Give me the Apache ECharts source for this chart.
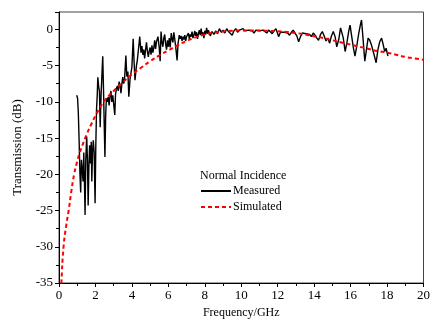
<!DOCTYPE html>
<html>
<head>
<meta charset="utf-8">
<script src="https://cdn.jsdelivr.net/npm/echarts@6/dist/echarts.min.js"></script>
<style>
  html, body { margin: 0; padding: 0; background: #fff; }
  #chart { width: 433px; height: 324px; }
</style>
</head>
<body>
<div id="chart"></div>
<script>
// measured transmission (freq in GHz, value in dB)
const measuredFreq = [
  0.97, 1.02, 1.06, 1.1, 1.15, 1.19, 1.23, 1.28, 1.32, 1.36, 1.4, 1.43, 1.47, 1.52, 1.56, 1.6,
  1.64, 1.68, 1.73, 1.77, 1.8, 1.84, 1.88, 1.93, 1.98, 2.02, 2.06, 2.1, 2.13, 2.18, 2.22, 2.26,
  2.31, 2.36, 2.4, 2.44, 2.48, 2.52, 2.56, 2.6, 2.65, 2.7, 2.75, 2.8, 2.85, 2.9, 2.95, 3.0,
  3.06, 3.1, 3.15, 3.2, 3.25, 3.3, 3.35, 3.4, 3.45, 3.5, 3.55, 3.6, 3.67, 3.72, 3.78, 3.83,
  3.9, 3.95, 4.0, 4.07, 4.12, 4.17, 4.25, 4.3, 4.37, 4.43, 4.5, 4.55, 4.6, 4.65, 4.7, 4.75,
  4.8, 4.85, 4.9, 4.95, 5.0, 5.05, 5.1, 5.15, 5.2, 5.25, 5.3, 5.35, 5.43, 5.5, 5.55, 5.6,
  5.65, 5.7, 5.75, 5.8, 5.85, 5.9, 5.95, 6.0, 6.05, 6.1, 6.16, 6.2, 6.25, 6.3, 6.35, 6.42,
  6.48, 6.53, 6.6, 6.65, 6.7, 6.75, 6.8, 6.85, 6.9, 6.95, 7.0, 7.05, 7.1, 7.15, 7.2, 7.25,
  7.3, 7.35, 7.4, 7.45, 7.5, 7.55, 7.6, 7.65, 7.7, 7.75, 7.8, 7.85, 7.9, 7.95, 8.0, 8.05,
  8.1, 8.15, 8.2, 8.3, 8.4, 8.5, 8.6, 8.7, 8.8, 8.9, 9.0, 9.1, 9.2, 9.3, 9.4, 9.5,
  9.6, 9.7, 9.8, 9.9, 10.0, 10.1, 10.2, 10.3, 10.4, 10.5, 10.6, 10.7, 10.8, 10.9, 11.0, 11.1,
  11.2, 11.3, 11.4, 11.5, 11.6, 11.7, 11.8, 11.9, 12.0, 12.05, 12.15, 12.25, 12.35, 12.45, 12.55, 12.65,
  12.75, 12.85, 12.95, 13.05, 13.15, 13.25, 13.35, 13.45, 13.55, 13.65, 13.75, 13.85, 13.95, 14.05, 14.15, 14.24,
  14.35, 14.45, 14.55, 14.65, 14.75, 14.85, 14.95, 15.05, 15.15, 15.24, 15.35, 15.45, 15.52, 15.6, 15.7, 15.8,
  15.9, 15.97, 16.05, 16.15, 16.24, 16.33, 16.45, 16.55, 16.6, 16.68, 16.78, 16.87, 16.96, 17.05, 17.15, 17.24,
  17.32, 17.4, 17.5, 17.6, 17.7, 17.78, 17.87, 17.95, 18.02, 18.05
];
const measuredDb = [
  -9.1, -9.5, -11.5, -15, -20, -22.5, -18, -19.5, -21, -17, -21.5, -25.6, -18, -14.8, -18, -24.3,
  -19, -16, -18.5, -15.5, -21, -17, -15.3, -17, -24, -16, -11, -9, -6.6, -8, -8.5, -13.5,
  -9, -6, -3.7, -8, -13, -17.6, -12, -9.5, -10, -9.3, -10.5, -9.2, -8.5, -10, -9.1, -10.3,
  -11.8, -9, -8.2, -7.8, -8.5, -7.2, -7.8, -8.8, -7.5, -6.6, -7.5, -6.8, -3.6, -6.5, -5.8, -9.3,
  -6.8, -6, -5.2, -1.3, -4.5, -7, -5, -4.2, -2.5, -1.0, -3.2, -2.3, -3.5, -2.8, -4, -2.8,
  -1.8, -3, -3.8, -3, -2.5, -3.5, -2.2, -3.2, -2.6, -1.5, -2.7, -1.7, -1.0, -2.5, -4.4, -0.3,
  -1.8, -2.4, -1.2, -0.7, -2.0, -2.8, -1.5, -2.4, -1.2, -2.5, -0.5, -1.3, -1.8, -0.4, -1.3, -2.8,
  -4.3, -2.0, -0.8, -1.3, -0.9, -1.6, -1.0, -1.4, -0.8, -1.6, -1.0, -1.2, -0.5, -1.3, -0.7, -1.0,
  -0.3, -1.2, -0.8, -0.2, -0.9, -0.4, -1.3, -0.6, -0.1, -0.8, 0.1, -0.9, -0.4, -1.2, -0.2, -0.7,
  0.2, -0.6, -0.1, -0.9, -0.3, -0.7, -0.2, -0.6, 0.1, -0.4, -0.1, -0.5, 0.1, -0.3, -0.1, -0.8,
  -0.2, 0.1, -0.4, -0.1, -0.3, 0.1, -0.2, -0.4, -0.1, -0.3, -0.2, -0.5, -0.1, -0.3, -0.2, -0.4,
  -0.1, -0.3, -0.5, -0.1, -0.3, -0.6, -0.2, 0.1, -0.6, -1.0, -0.4, -0.2, -0.4, -0.3, -0.5, -0.8,
  -0.4, -0.1, -0.5, -0.9, -1.7, -1.0, -0.5, -0.3, -0.6, -0.4, -0.7, -1.0, -0.5, -0.8, -1.2, -1.5,
  -0.7, -0.3, -0.9, -1.6, -1.2, -1.9, -0.9, -0.3, -1.0, -2.4, -1.4, 0.2, 0.35, -1.2, -3.05, -1.8,
  -0.2, 0.6, -0.8, -2.5, -3.7, -2.4, -0.5, 0.8, 1.3, -1.2, -4.4, -2.8, -1.2, -1.5, -2.2, -3.05,
  -3.8, -4.6, -2.8, -1.7, -1.2, -2.0, -3.05, -2.6, -3.4, -3.7
];

// simulated transmission
const simFreq = [
  0.1, 0.13, 0.25, 0.4, 0.53, 0.68, 0.83, 1.0, 1.1, 1.3, 1.5, 1.75, 2.0, 2.25, 2.5, 3.0,
  3.5, 4.0, 4.5, 5.0, 5.5, 6.0, 6.5, 7.0, 7.5, 8.0, 8.5, 9.0, 9.5, 10.0, 10.5, 11.0,
  11.5, 12.0, 12.5, 13.0, 13.5, 14.0, 14.5, 15.0, 15.5, 16.0, 16.5, 17.0, 17.5, 18.0, 18.5, 19.0,
  19.5, 20.0
];
const simDb = [
  -37, -35, -30, -27, -25, -22.3, -20, -18.2, -17.3, -15.9, -14.6, -13.2, -11.9, -10.8, -9.8, -8.5,
  -7.3, -6.2, -5.3, -4.4, -3.6, -2.9, -2.2, -1.6, -1.1, -0.7, -0.45, -0.3, -0.2, -0.15, -0.15, -0.15,
  -0.2, -0.25, -0.35, -0.5, -0.7, -0.95, -1.2, -1.5, -1.8, -2.1, -2.4, -2.7, -3.0, -3.2, -3.5, -3.8,
  -4.0, -4.2
];

const xTicks = { min: 0, max: 20, interval: 2 };
const yTicks = { min: -35, max: 2.4, interval: 5 };

const serif = "'Liberation Serif', 'DejaVu Serif', serif";

const chart = echarts.init(document.getElementById("chart"), null, { renderer: "canvas" });

chart.setOption({
  backgroundColor: "#fff",
  animation: false,
  textStyle: { fontFamily: serif },
  grid: {
    left: 59,
    right: 7,
    top: 12,
    bottom: 38,
    show: true,
    borderColor: "#444",
    borderWidth: 1,
    containLabel: false,
  },
  legend: {
    orient: "vertical",
    left: 200,
    top: 185,
    padding: 0,
    itemWidth: 30,
    itemHeight: 12,
    itemGap: 4,
    itemStyle: { opacity: 0 },
    textStyle: { fontFamily: serif, fontSize: 12, color: "#000", padding: [0, 0, 0, -3] },
    data: ["Measured", "Simulated"],
  },
  graphic: [
    {
      type: "text",
      left: 200,
      top: 170,
      style: { text: "Normal Incidence", font: "12px " + serif, fill: "#000" },
    },
  ],
  xAxis: {
    type: "value",
    min: xTicks.min,
    max: xTicks.max,
    interval: xTicks.interval,
    name: "Frequency/GHz",
    nameLocation: "middle",
    nameGap: 24,
    nameTextStyle: { fontFamily: serif, fontSize: 12, color: "#000" },
    axisLine: { show: true, onZero: false, lineStyle: { color: "#000", width: 1 } },
    axisTick: { show: true, inside: false, length: 4, lineStyle: { color: "#000" } },
    minorTick: { show: true, splitNumber: 2, length: 3, lineStyle: { color: "#000" } },
    axisLabel: { margin: 6, fontFamily: serif, fontSize: 13, color: "#000" },
    splitLine: { show: false },
  },
  yAxis: {
    type: "value",
    min: yTicks.min,
    max: yTicks.max,
    interval: yTicks.interval,
    name: "Transmission (dB)",
    nameLocation: "middle",
    nameGap: 35,
    nameTextStyle: { fontFamily: serif, fontSize: 13, color: "#000" },
    axisLine: { show: true, onZero: false, lineStyle: { color: "#000", width: 1 } },
    axisTick: { show: true, inside: false, length: 4, lineStyle: { color: "#000" } },
    minorTick: { show: true, splitNumber: 2, length: 3, lineStyle: { color: "#000" } },
    axisLabel: {
      margin: 6,
      fontFamily: serif,
      fontSize: 13,
      color: "#000",
      formatter: (v) => (v % 5 === 0 ? String(v) : ""),
    },
    splitLine: { show: false },
  },
  series: [
    {
      name: "Measured",
      type: "line",
      symbol: "none",
      clip: true,
      lineStyle: { color: "#000", width: 1.4 },
      itemStyle: { color: "#000" },
      data: measuredFreq.map((f, i) => [f, measuredDb[i]]),
      z: 3,
    },
    {
      name: "Simulated",
      type: "line",
      symbol: "none",
      smooth: true,
      clip: true,
      lineStyle: { color: "#ff0000", width: 2, type: [4, 3] },
      itemStyle: { color: "#ff0000" },
      data: simFreq.map((f, i) => [f, simDb[i]]),
      z: 4,
    },
  ],
});
</script>
</body>
</html>
